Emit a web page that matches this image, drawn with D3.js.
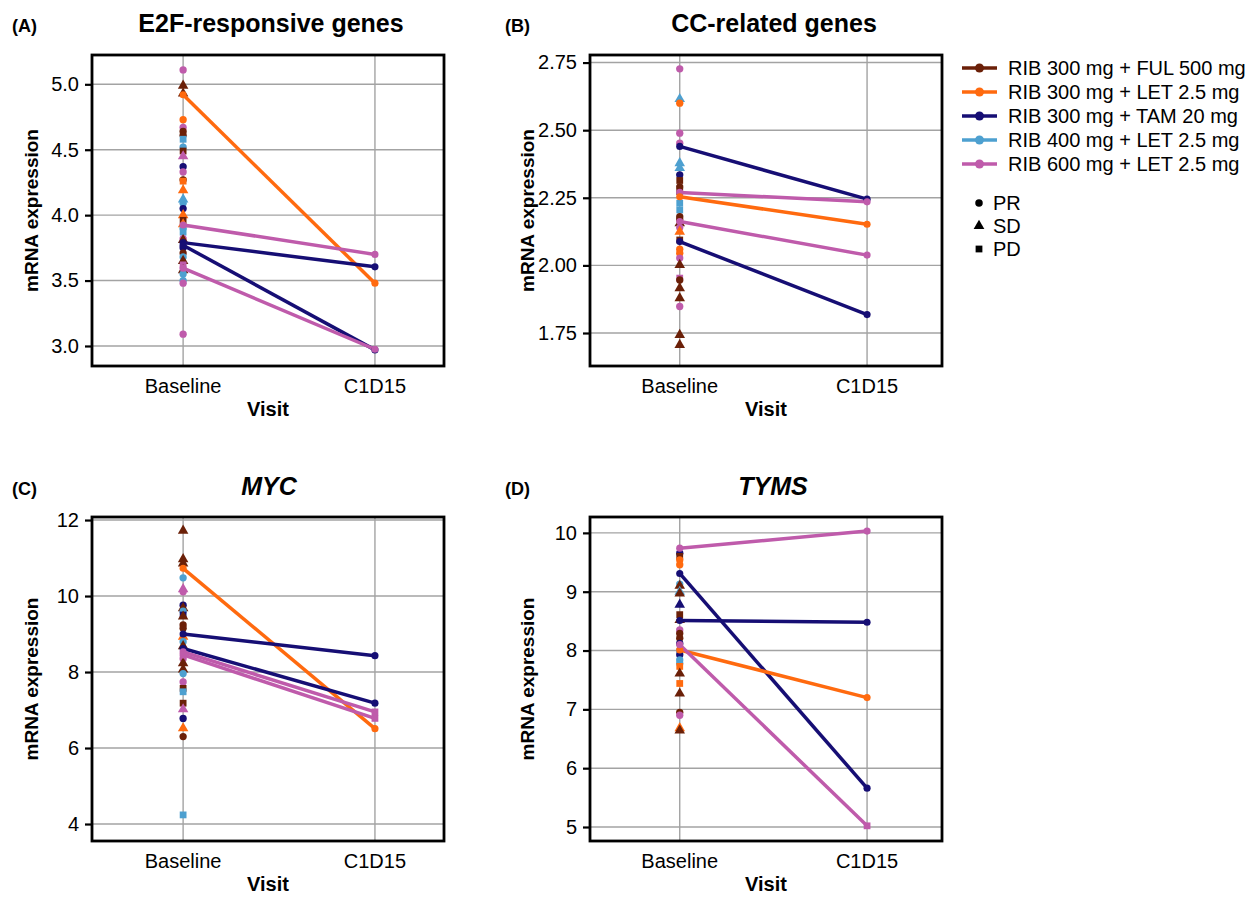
<!DOCTYPE html>
<html><head><meta charset="utf-8">
<script src="https://cdn.jsdelivr.net/npm/d3@7"></script>
<style>body{margin:0;background:#fff}svg{display:block}text{font-family:"Liberation Sans",Arial,sans-serif;fill:#000}</style>
</head><body><svg id="c" width="1255" height="898"></svg>
<script>
// ---- data ----
const groups = ["RIB 300 mg + FUL 500 mg","RIB 300 mg + LET 2.5 mg","RIB 300 mg + TAM 20 mg","RIB 400 mg + LET 2.5 mg","RIB 600 mg + LET 2.5 mg"];
const groupColors = ["#6b2008","#ff6a0f","#160e74","#4da0d0","#bf5bab"];
const responses = ["PR","SD","PD"];
const visits = ["Baseline","C1D15"];

// baseline points: [value, group index, response index]
const e2fBase = [[5.11,4,0],[4.99,0,1],[4.93,0,1],[4.73,1,0],[4.67,4,0],[4.64,0,0],[4.61,0,0],[4.58,3,2],[4.52,3,0],[4.49,0,2],[4.45,4,1],[4.37,2,0],[4.33,4,0],[4.27,0,0],[4.26,1,2],[4.19,1,1],[4.12,3,1],[4.09,3,0],[4.05,2,0],[4.00,1,1],[3.96,0,2],[3.93,1,1],[3.90,3,0],[3.87,3,2],[3.82,4,0],[3.81,0,1],[3.75,2,0],[3.71,0,0],[3.68,3,0],[3.65,0,1],[3.62,4,2],[3.58,0,1],[3.55,3,0],[3.50,3,0],[3.48,4,0],[3.09,4,0]];
// paired patients: [group, response, baseline, C1D15]
const e2fPairs = [[1,0,4.92,3.48],[4,0,3.925,3.70],[2,0,3.79,3.605],[2,0,3.77,2.97],[4,0,3.595,2.975]];
const e2fTicks = [3.0,3.5,4.0,4.5,5.0];

const ccBase = [[2.727,4,0],[2.615,3,1],[2.60,1,0],[2.489,4,0],[2.452,4,0],[2.378,3,1],[2.36,3,1],[2.335,2,0],[2.314,0,2],[2.29,0,0],[2.273,0,2],[2.23,3,2],[2.205,3,2],[2.18,0,0],[2.17,0,0],[2.156,0,1],[2.14,4,0],[2.125,1,1],[2.094,0,2],[2.06,1,0],[2.045,1,0],[2.027,4,0],[2.002,0,1],[1.953,4,2],[1.946,0,0],[1.916,0,1],[1.879,0,1],[1.848,4,0],[1.743,0,1],[1.706,0,1]];
const ccPairs = [[2,0,2.44,2.245],[4,0,2.27,2.235],[1,0,2.254,2.152],[4,0,2.162,2.038],[2,0,2.088,1.818]];
const ccTicks = [1.75,2.00,2.25,2.50,2.75];

const mycBase = [[11.72,0,1],[10.97,0,1],[10.86,0,1],[10.48,3,0],[10.18,4,1],[10.11,4,0],[9.76,2,0],[9.68,0,1],[9.60,3,0],[9.50,2,2],[9.46,0,1],[9.24,0,0],[9.15,0,0],[8.93,1,1],[8.80,3,0],[8.68,0,1],[8.35,4,0],[8.23,0,1],[8.07,0,1],[7.96,3,0],[7.74,4,0],[7.57,0,2],[7.48,3,2],[7.18,0,2],[7.02,4,1],[6.78,2,0],[6.52,1,1],[6.30,0,0],[4.24,3,2]];
const mycPairs = [[1,0,10.73,6.51],[2,0,9.0,8.43],[2,0,8.62,7.18],[4,2,8.53,6.95],[4,2,8.45,6.78]];
const mycTicks = [4,6,8,10,12];

const tymsBase = [[9.655,2,0],[9.60,0,2],[9.54,1,0],[9.46,1,0],[9.13,3,0],[9.10,0,1],[9.00,3,1],[8.97,0,1],[8.78,2,1],[8.61,0,2],[8.52,0,1],[8.35,4,0],[8.29,0,0],[8.21,0,0],[8.12,2,0],[8.00,3,0],[7.93,2,0],[7.84,3,0],[7.78,3,0],[7.73,1,2],[7.61,0,1],[7.44,1,2],[7.27,0,1],[6.95,0,0],[6.90,4,0],[6.68,1,1],[6.64,0,1]];
const tymsPairs = [[4,0,9.74,10.03],[2,0,8.51,8.48],[2,0,9.31,5.66],[1,0,8.01,7.20],[4,2,8.10,5.02]];
const tymsTicks = [5,6,7,8,9,10];

// ---- layout ----
const panels = [
  {tag:"(A)", title:"E2F-responsive genes", italic:false, base:e2fBase, pairs:e2fPairs, ticks:e2fTicks, fmt:".1f",
   y:[2.847,5.224], x:[-0.475,1.36], fx0:92, fx1:444, fy0:55, fy1:366, tagX:12, titleX:271, titleY:32, ytX:31},
  {tag:"(B)", title:"CC-related genes", italic:false, base:ccBase, pairs:ccPairs, ticks:ccTicks, fmt:".2f",
   y:[1.628,2.778], x:[-0.479,1.40], fx0:590, fx1:942, fy0:55, fy1:366, tagX:505, titleX:774, titleY:32, ytX:527},
  {tag:"(C)", title:"MYC", italic:true, base:mycBase, pairs:mycPairs, ticks:mycTicks, fmt:"d",
   y:[3.553,12.08], x:[-0.475,1.36], fx0:92, fx1:444, fy0:517, fy1:841, tagX:12, titleX:269, titleY:495, ytX:31},
  {tag:"(D)", title:"TYMS", italic:true, base:tymsBase, pairs:tymsPairs, ticks:tymsTicks, fmt:"d",
   y:[4.762,10.27], x:[-0.479,1.40], fx0:590, fx1:942, fy0:517, fy1:841, tagX:505, titleX:773, titleY:495, ytX:527}
];

const svg = d3.select("#c");
const shapeTypes = [d3.symbolCircle, d3.symbolTriangle, d3.symbolSquare];
const shapeSizes = [42, 48, 46];
const sym = (r, s) => d3.symbol().type(shapeTypes[r]).size(s || shapeSizes[r])();

panels.forEach(p => {
  const g = svg.append("g");
  const x = d3.scaleLinear().domain(p.x).range([p.fx0, p.fx1]);
  const y = d3.scaleLinear().domain(p.y).range([p.fy1, p.fy0]);
  const cx = (p.fx0 + p.fx1) / 2;

  // grid
  g.selectAll(".hg").data(p.ticks).join("line")
    .attr("x1", p.fx0).attr("x2", p.fx1).attr("y1", d => y(d)).attr("y2", d => y(d))
    .attr("stroke", "#a3a3a3").attr("stroke-width", 1.4);
  g.selectAll(".vg").data(visits).join("line")
    .attr("x1", (d,i) => x(i)).attr("x2", (d,i) => x(i)).attr("y1", p.fy0).attr("y2", p.fy1)
    .attr("stroke", "#a3a3a3").attr("stroke-width", 1.4);

  // y axis
  const ya = d3.axisLeft(y).tickValues(p.ticks).tickFormat(d3.format(p.fmt)).tickSize(7).tickPadding(6);
  const yg = g.append("g").attr("transform", `translate(${p.fx0},0)`).call(ya);
  yg.select(".domain").remove();
  yg.selectAll(".tick line").attr("stroke", "#000").attr("stroke-width", 2.2);
  yg.selectAll(".tick text").style("font-size", "20px").attr("font-family", "Liberation Sans, Arial, sans-serif").attr("fill", "#000");

  // x labels
  g.selectAll(".xl").data(visits).join("text")
    .attr("x", (d,i) => x(i)).attr("y", p.fy1 + 27).attr("text-anchor", "middle")
    .style("font-size", "20px").text(d => d);
  g.append("text").attr("x", cx).attr("y", p.fy1 + 50).attr("text-anchor", "middle")
    .style("font-size", "20px").style("font-weight", "bold").text("Visit");
  g.append("text").attr("transform", `translate(${p.ytX},${(p.fy0 + p.fy1) / 2}) rotate(-90)`)
    .attr("text-anchor", "middle").attr("dy", "0.35em")
    .style("font-size", "19px").style("font-weight", "bold").text("mRNA expression");

  // titles
  g.append("text").attr("x", p.tagX).attr("y", p.titleY).style("font-size", "18px").style("font-weight", "bold").text(p.tag);
  g.append("text").attr("x", p.titleX).attr("y", p.titleY).attr("text-anchor", "middle")
    .style("font-size", "25px").style("font-weight", "bold").style("font-style", p.italic ? "italic" : "normal").text(p.title);

  // baseline points
  g.selectAll(".bp").data(p.base).join("path")
    .attr("transform", d => `translate(${x(0)},${y(d[0])})`)
    .attr("d", d => sym(d[2])).attr("fill", d => groupColors[d[1]]);

  // paired lines
  g.selectAll(".pl").data(p.pairs).join("line")
    .attr("x1", x(0)).attr("y1", d => y(d[2])).attr("x2", x(1)).attr("y2", d => y(d[3]))
    .attr("stroke", d => groupColors[d[0]]).attr("stroke-width", 3.5);
  g.selectAll(".pb").data(p.pairs).join("path")
    .attr("transform", d => `translate(${x(0)},${y(d[2])})`)
    .attr("d", d => sym(0, 40)).attr("fill", d => groupColors[d[0]]);
  g.selectAll(".pe").data(p.pairs).join("path")
    .attr("transform", d => `translate(${x(1)},${y(d[3])})`)
    .attr("d", d => sym(d[1], d[1] === 2 ? 46 : 40)).attr("fill", d => groupColors[d[0]]);

  // frame
  g.append("rect").attr("x", p.fx0).attr("y", p.fy0).attr("width", p.fx1 - p.fx0).attr("height", p.fy1 - p.fy0)
    .attr("fill", "none").attr("stroke", "#000").attr("stroke-width", 2.8);
});

// legend
const lg = svg.append("g");
const rowY = i => 68 + i * 24;
lg.selectAll(".ll").data(groups).join("line")
  .attr("x1", 962).attr("x2", 997).attr("y1", (d,i) => rowY(i)).attr("y2", (d,i) => rowY(i))
  .attr("stroke", (d,i) => groupColors[i]).attr("stroke-width", 3.5);
lg.selectAll(".ld").data(groups).join("circle")
  .attr("cx", 979.5).attr("cy", (d,i) => rowY(i)).attr("r", 4.5).attr("fill", (d,i) => groupColors[i]);
lg.selectAll(".lt").data(groups).join("text")
  .attr("x", 1008).attr("y", (d,i) => rowY(i)).attr("dy", "0.35em").style("font-size", "20px").text(d => d);
const srY = i => 203 + i * 23;
lg.selectAll(".ss").data(responses).join("path")
  .attr("transform", (d,i) => `translate(979,${srY(i)})`).attr("d", (d,i) => sym(i, [44,50,46][i])).attr("fill", "#000");
lg.selectAll(".st").data(responses).join("text")
  .attr("x", 993).attr("y", (d,i) => srY(i)).attr("dy", "0.35em").style("font-size", "20px").text(d => d);
</script></body></html>
